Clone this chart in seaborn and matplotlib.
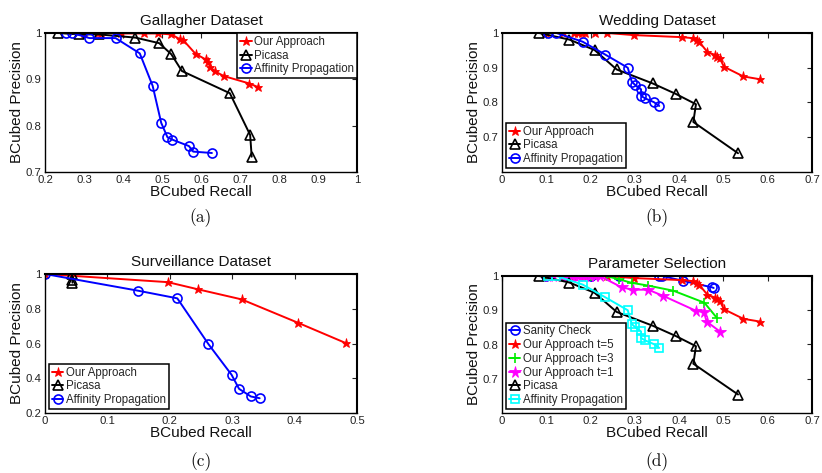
import matplotlib
matplotlib.use("Agg")
import matplotlib.pyplot as plt
import seaborn as sns

# ---------------- data ----------------
# (a) Gallagher
a_our_x = [0.30, 0.335, 0.343, 0.396, 0.454, 0.49, 0.524, 0.547, 0.554, 0.586, 0.612, 0.618, 0.623, 0.636, 0.659, 0.724, 0.747]
a_our_y = [1.0, 1.0, 1.0, 0.999, 0.999, 0.999, 0.997, 0.986, 0.985, 0.955, 0.943, 0.938, 0.927, 0.917, 0.907, 0.891, 0.883]
a_pic_x = [0.234, 0.286, 0.338, 0.432, 0.493, 0.524, 0.551, 0.674, 0.726, 0.73]
a_pic_y = [1.0, 0.997, 0.997, 0.99, 0.978, 0.954, 0.918, 0.87, 0.78, 0.733]
a_ap_x = [0.254, 0.27, 0.314, 0.381, 0.443, 0.476, 0.498, 0.514, 0.526, 0.569, 0.58, 0.628]
a_ap_y = [1.0, 1.0, 0.989, 0.989, 0.956, 0.886, 0.806, 0.775, 0.77, 0.756, 0.744, 0.741]

# (b) Wedding
b_our_x = [0.10, 0.137, 0.163, 0.171, 0.18, 0.187, 0.21, 0.238, 0.297, 0.407, 0.432, 0.44, 0.445, 0.464, 0.481, 0.485, 0.492, 0.501, 0.545, 0.582]
b_our_y = [1, 1, 1, 1, 1, 1, 1, 1, 0.994, 0.988, 0.985, 0.98, 0.975, 0.945, 0.937, 0.932, 0.927, 0.903, 0.875, 0.867]
b_pic_x = [0.084, 0.152, 0.209, 0.259, 0.34, 0.392, 0.438, 0.432, 0.533]
b_pic_y = [1.0, 0.981, 0.951, 0.895, 0.855, 0.825, 0.795, 0.744, 0.654]
b_ap_x = [0.103, 0.123, 0.182, 0.233, 0.284, 0.293, 0.301, 0.314, 0.314, 0.323, 0.343, 0.355]
b_ap_y = [1.0, 1.0, 0.975, 0.938, 0.90, 0.86, 0.85, 0.838, 0.819, 0.812, 0.801, 0.79]

# (c) Surveillance
c_our_x = [0.0, 0.197, 0.245, 0.315, 0.405, 0.483]
c_our_y = [1.0, 0.953, 0.912, 0.854, 0.72, 0.601]
c_pic_x = [0.043, 0.044, 0.044]
c_pic_y = [1.0, 0.965, 0.95]
c_ap_x = [0.0, 0.149, 0.212, 0.262, 0.299, 0.311, 0.33, 0.344]
c_ap_y = [1.0, 0.904, 0.86, 0.596, 0.42, 0.339, 0.295, 0.285]

# (d) Parameter selection
d_san_x = [0.10, 0.14, 0.20, 0.265, 0.354, 0.362, 0.408, 0.474, 0.478]
d_san_y = [1, 1, 1, 1, 1, 1, 0.986, 0.967, 0.965]
d_t5_x = b_our_x
d_t5_y = b_our_y
d_t3_x = [0.10, 0.15, 0.20, 0.236, 0.265, 0.293, 0.33, 0.387, 0.457, 0.485]
d_t3_y = [1, 1, 1, 1, 0.99, 0.98, 0.972, 0.957, 0.922, 0.878]
d_t1_x = [0.105, 0.116, 0.135, 0.146, 0.157, 0.165, 0.172, 0.18, 0.187, 0.199, 0.21, 0.221, 0.27, 0.295, 0.33, 0.364, 0.437, 0.456, 0.462, 0.493]
d_t1_y = [1, 1, 1, 1, 1, 1, 1, 1, 1, 1, 1, 1, 0.967, 0.96, 0.96, 0.942, 0.899, 0.895, 0.867, 0.837]
d_pic_x = b_pic_x
d_pic_y = b_pic_y
d_ap_x = b_ap_x
d_ap_y = b_ap_y

titles = ["Gallagher Dataset", "Wedding Dataset", "Surveillance Dataset", "Parameter Selection"]
captions = ["(a)", "(b)", "(c)", "(d)"]

# ---------------- style ----------------
sns.set_theme(style="white")
plt.rcParams["font.family"] = ["Liberation Sans", "DejaVu Sans"]
plt.rcParams.update({
    "xtick.direction": "in", "ytick.direction": "in",
    "xtick.top": True, "ytick.right": True,
    "xtick.major.size": 3.5, "ytick.major.size": 3.5,
    "xtick.major.width": 0.8, "ytick.major.width": 0.8,
    "xtick.color": "#222222", "ytick.color": "#222222",
    "xtick.labelsize": 8.2, "ytick.labelsize": 8.2,
    "xtick.major.pad": 2.5, "ytick.major.pad": 2.5,
})

W, H = 822, 473
fig = plt.figure(figsize=(W / 100, H / 100), dpi=100)


def make_ax(l, r, t, b):
    return fig.add_axes([l / W, 1 - b / H, (r - l) / W, (b - t) / H])


def series(ax, x, y, color, marker, label, ms=6.5, mfc="none", mew=1.2):
    sns.lineplot(x=x, y=y, ax=ax, sort=False, estimator=None, color=color,
                 marker=marker, markersize=ms, markerfacecolor=mfc,
                 markeredgecolor=color, markeredgewidth=mew, linewidth=1.4,
                 label=label)


def style_ax(ax, title, xlim, ylim, xticks, xlabels, yticks, ylabels):
    ax.set_xlim(*xlim)
    ax.set_ylim(*ylim)
    ax.set_xticks(xticks)
    ax.set_xticklabels(xlabels)
    ax.set_yticks(yticks)
    ax.set_yticklabels(ylabels)
    ax.set_title(title, fontsize=11, pad=6, color="#111111")
    ax.set_xlabel("BCubed Recall", fontsize=11, labelpad=0, color="#111111")
    ax.set_ylabel("BCubed Precision", fontsize=11, labelpad=1, color="#111111")
    for s in ["left", "bottom"]:
        ax.spines[s].set_linewidth(1.0)
        ax.spines[s].set_color("black")
    for s in ["top", "right"]:
        ax.spines[s].set_linewidth(1.5)
        ax.spines[s].set_color("black")
    ax.tick_params(top=True, right=True)


def legend(ax, **kw):
    leg = ax.legend(fontsize=8.3, handlelength=1.0, handletextpad=0.2,
                    borderpad=0.25, labelspacing=0.15, fancybox=False,
                    framealpha=1, edgecolor="black", **kw)
    leg.get_frame().set_linewidth(1.1)


R, K, B = "#ff0000", "#000000", "#0000ff"

# (a)
ax = make_ax(45, 357, 33, 172)
series(ax, a_our_x, a_our_y, R, "*", "Our Approach", ms=6.5, mfc=R, mew=0.6)
series(ax, a_pic_x, a_pic_y, K, "^", "Picasa", ms=7.5)
series(ax, a_ap_x, a_ap_y, B, "o", "Affinity Propagation", ms=6.5)
style_ax(ax, titles[0], (0.2, 1.0), (0.7, 1.0),
         [0.2, 0.3, 0.4, 0.5, 0.6, 0.7, 0.8, 0.9, 1.0],
         ["0.2", "0.3", "0.4", "0.5", "0.6", "0.7", "0.8", "0.9", "1"],
         [0.7, 0.8, 0.9, 1.0], ["0.7", "0.8", "0.9", "1"])
legend(ax, loc="upper right", bbox_to_anchor=(1.0, 1.0), borderaxespad=0.0)

# (b)
ax = make_ax(502, 812, 33, 172)
series(ax, b_our_x, b_our_y, R, "*", "Our Approach", ms=6.5, mfc=R, mew=0.6)
series(ax, b_pic_x, b_pic_y, K, "^", "Picasa", ms=7.5)
series(ax, b_ap_x, b_ap_y, B, "o", "Affinity Propagation", ms=6.5)
xt = [0, 0.1, 0.2, 0.3, 0.4, 0.5, 0.6, 0.7]
style_ax(ax, titles[1], (0, 0.7), (0.6, 1.0), xt,
         ["0", "0.1", "0.2", "0.3", "0.4", "0.5", "0.6", "0.7"],
         [0.7, 0.8, 0.9, 1.0], ["0.7", "0.8", "0.9", "1"])
legend(ax, loc="lower left", borderaxespad=0.35)

# (c)
ax = make_ax(45, 357, 274, 413)
series(ax, c_our_x, c_our_y, R, "*", "Our Approach", ms=6.5, mfc=R, mew=0.6)
series(ax, c_pic_x, c_pic_y, K, "^", "Picasa", ms=7.5)
series(ax, c_ap_x, c_ap_y, B, "o", "Affinity Propagation", ms=6.5)
style_ax(ax, titles[2], (0, 0.5), (0.2, 1.0),
         [0, 0.1, 0.2, 0.3, 0.4, 0.5], ["0", "0.1", "0.2", "0.3", "0.4", "0.5"],
         [0.2, 0.4, 0.6, 0.8, 1.0], ["0.2", "0.4", "0.6", "0.8", "1"])
legend(ax, loc="lower left", borderaxespad=0.35)

# (d)
ax = make_ax(502, 812, 276, 413)
series(ax, d_san_x, d_san_y, B, "o", "Sanity Check", ms=6.5)
series(ax, d_t5_x, d_t5_y, R, "*", "Our Approach t=5", ms=6.5, mfc=R, mew=0.6)
series(ax, d_t3_x, d_t3_y, "#00ee00", "+", "Our Approach t=3", ms=7)
series(ax, d_t1_x, d_t1_y, "#ff00ff", "*", "Our Approach t=1", ms=8.5, mfc="#ff00ff", mew=0.6)
series(ax, d_pic_x, d_pic_y, K, "^", "Picasa", ms=7.5)
series(ax, d_ap_x, d_ap_y, "#00ffff", "s", "Affinity Propagation", ms=5.5)
style_ax(ax, titles[3], (0, 0.7), (0.6, 1.0), xt,
         ["0", "0.1", "0.2", "0.3", "0.4", "0.5", "0.6", "0.7"],
         [0.7, 0.8, 0.9, 1.0], ["0.7", "0.8", "0.9", "1"])
legend(ax, loc="lower left", borderaxespad=0.35)

# captions
for cx, cy, cap in [(201, 218, captions[0]), (657, 218, captions[1]),
                    (201, 462, captions[2]), (657, 462, captions[3])]:
    fig.text(cx / W, 1 - cy / H, cap, ha="center", va="center",
             fontsize=12.5, family="cmr10", color="#111111")

fig.savefig("out.png", dpi=100)
